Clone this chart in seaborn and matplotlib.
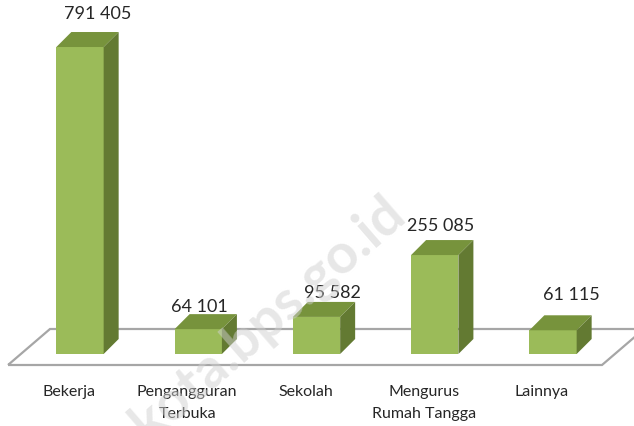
import matplotlib
matplotlib.use("Agg")
import matplotlib.pyplot as plt
from matplotlib.patches import Polygon
import seaborn as sns
import pandas as pd

categories = ["Bekerja", "Pengangguran\nTerbuka", "Sekolah", "Mengurus\nRumah Tangga", "Lainnya"]
values = [791405, 64101, 95582, 255085, 61115]
value_labels = ["791 405", "64 101", "95 582", "255 085", "61 115"]

# layout (pixels, origin top-left of a 634x427 canvas)
X0, STEP = 80, 118.25       # centre of first bar, spacing between bars
BASE = 355                  # pixel row of the bar bottoms
UNIT = 2578                 # data units per pixel vertically
DEPTH = 15                  # 3d depth offset in px
lab_dx = [18, 1, 16, 6, 18]
lab_dy = [34, 23.5, 24.5, 30.5, 36]

sns.set_style("white")
plt.rcParams["font.family"] = ["Lato", "DejaVu Sans"]

fig = plt.figure(figsize=(6.34, 4.27), dpi=100)
ax = fig.add_axes([0, 0, 1, 1])

df = pd.DataFrame({"cat": categories, "val": values})
sns.barplot(data=df, x="cat", y="val", color="#9bbb59", saturation=1,
            width=0.4, ax=ax, zorder=3, linewidth=0)

ax.set_xlim(-X0 / STEP, (634 - X0) / STEP)
ax.set_ylim(-(427 - BASE) * UNIT, BASE * UNIT)
ax.axis("off")


def px(x, y):
    return (x - X0) / STEP, (BASE - y) * UNIT


# floor
floor = [px(8, 366), px(50, 330), px(644, 330), px(602, 366)]
ax.add_patch(Polygon(floor, closed=True, fill=False, edgecolor="#a6a6a6",
                     linewidth=1.6, zorder=1))

dx = DEPTH / STEP
dy = DEPTH * UNIT
for p in ax.patches[:]:
    if isinstance(p, Polygon):
        continue
    x0, w, h = p.get_x(), p.get_width(), p.get_height()
    top = [(x0, h), (x0 + w, h), (x0 + w + dx, h + dy), (x0 + dx, h + dy)]
    side = [(x0 + w, 0), (x0 + w + dx, dy), (x0 + w + dx, h + dy), (x0 + w, h)]
    ax.add_patch(Polygon(top, closed=True, facecolor="#77933c", edgecolor="none", zorder=3))
    ax.add_patch(Polygon(side, closed=True, facecolor="#637a32", edgecolor="none", zorder=3))

for i, (v, lab) in enumerate(zip(values, value_labels)):
    ax.text(i + lab_dx[i] / STEP, v + lab_dy[i] * UNIT, lab, ha="center", va="center",
            fontsize=13, color="#262626", zorder=5)

for i, cat in enumerate(categories):
    ax.text(i - 11 / STEP, (BASE - 385) * UNIT, cat, ha="center", va="top",
            fontsize=11.5, color="#262626", linespacing=1.7, zorder=5)

# watermark
wx, wy = px(268, 318)
ax.text(wx, wy, "kota.bps.go.id", rotation=41, ha="center", va="center",
        fontsize=40, fontweight="bold", color="#d0d0d0", alpha=0.5, zorder=6)

fig.savefig("out.png", dpi=100)
